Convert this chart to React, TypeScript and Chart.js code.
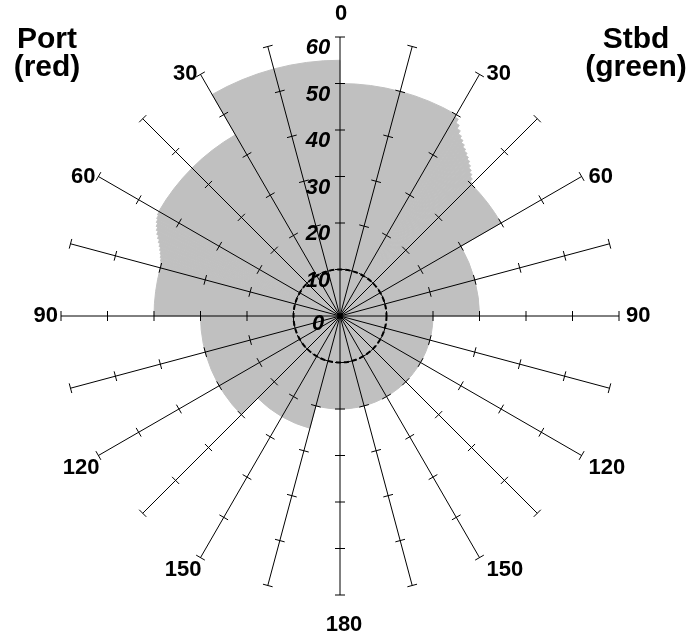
import React, { useEffect, useRef } from 'react';
import { Chart, registerables } from 'chart.js';

Chart.register(...registerables);

// Spokes every 15 degrees, clockwise from the bow (starboard first)
const spokeLabels = ['0', '15', '30', '45', '60', '75', '90', '105', '120', '135', '150', '165',
  '180', '195', '210', '225', '240', '255', '270', '285', '300', '315', '330', '345'];

// Radial scale ticks
const radialTicks = [0, 10, 20, 30, 40, 50, 60];

// Angle labels shown on both sides
const angleLabels = [0, 30, 60, 90, 120, 150, 180];

// Starboard sectors, from bow (0) to stern (180): width in degrees and radius
const stbdSpans = [30, 1, 1, 1, 1, 1, 1, 1, 1, 1, 1, 1, 1, 1, 1, 1, 15, 30, 90];
const stbdValues = [50, 49.4, 48.4, 47.5, 46.7, 46.1, 45.5, 44.9, 44.4, 43.9, 43.4, 42.8, 42.2, 41.6, 41.0, 40.3, 40, 30, 20];

// Port sectors, from bow (0) to stern (180): width in degrees and radius
const portSpans = [30, 30, 1, 1, 1, 1, 1, 1, 1, 1, 1, 1, 1, 1, 1, 1, 1, 15, 45, 30, 15];
const portValues = [55, 45, 44.9, 44.65, 44.35, 44.0, 43.6, 43.15, 42.65, 42.15, 41.7, 41.3, 40.95, 40.65, 40.4, 40.2, 40.05, 40, 30, 25, 20];

const FONT = '"Liberation Sans", Arial, Helvetica, sans-serif';

const spokePlugin = {
  id: 'spokeDecor',
  afterDraw(chart: any) {
    const scale = chart.scales.r;
    const ctx = chart.ctx;
    ctx.save();
    // tick marks across every spoke
    ctx.strokeStyle = '#000';
    ctx.lineWidth = 1;
    const n = spokeLabels.length;
    for (let i = 0; i < n; i++) {
      const a = scale.getIndexAngle(i) - Math.PI / 2;
      const px = -Math.sin(a);
      const py = Math.cos(a);
      for (const v of radialTicks) {
        if (v === 0) continue;
        const p = scale.getPointPositionForValue(i, v);
        ctx.beginPath();
        ctx.moveTo(p.x - px * 5, p.y - py * 5);
        ctx.lineTo(p.x + px * 5, p.y + py * 5);
        ctx.stroke();
      }
    }
    // radial tick labels along the bow spoke
    ctx.fillStyle = '#000';
    ctx.font = `italic bold 22px ${FONT}`;
    ctx.textAlign = 'center';
    ctx.textBaseline = 'top';
    for (const v of radialTicks) {
      const p = scale.getPointPositionForValue(0, v);
      ctx.fillText(String(v), p.x - 22, p.y - (v === 0 ? 3 : 0));
    }
    // angle labels
    ctx.font = `bold 22px ${FONT}`;
    for (const deg of angleLabels) {
      const sides = deg === 0 || deg === 180 ? [1] : [1, -1];
      for (const side of sides) {
        const compass = side > 0 ? deg : 360 - deg;
        const idx = spokeLabels.indexOf(String(compass % 360));
        const p = scale.getPointPositionForValue(idx, scale.max);
        if (deg === 0) {
          ctx.textAlign = 'center';
          ctx.textBaseline = 'bottom';
          ctx.fillText(String(deg), p.x + 1, p.y - 12);
        } else if (deg === 180) {
          ctx.textAlign = 'center';
          ctx.textBaseline = 'top';
          ctx.fillText(String(deg), p.x + 4, p.y + 19);
        } else {
          const lower = deg > 90;
          ctx.textBaseline = lower ? 'top' : 'middle';
          const y = lower ? p.y + 1 : p.y;
          if (side > 0) {
            ctx.textAlign = 'left';
            ctx.fillText(String(deg), p.x + 7, y);
          } else {
            ctx.textAlign = 'right';
            ctx.fillText(String(deg), p.x + (lower ? 1 : -3), y);
          }
        }
      }
    }
    ctx.restore();
  },
};

export default function App() {
  const ref = useRef<HTMLCanvasElement | null>(null);

  useEffect(() => {
    if (!ref.current) return;
    const spans = [...stbdSpans, ...portSpans.slice().reverse()];
    const values = [...stbdValues, ...portValues.slice().reverse()];
    const chart = new Chart(ref.current, {
      type: 'polarArea',
      data: {
        labels: spokeLabels,
        datasets: [
          {
            data: values,
            angle: (c: any) => spans[c.dataIndex],
            backgroundColor: '#c0c0c0',
            borderColor: '#c0c0c0',
            borderWidth: 1,
          } as any,
        ],
      },
      options: {
        responsive: false,
        animation: false,
        devicePixelRatio: 1,
        events: [],
        layout: { padding: { left: 61, right: 72, top: 37, bottom: 40 } },
        plugins: {
          legend: { display: false },
          tooltip: { enabled: false },
        },
        scales: {
          r: {
            min: 0,
            max: 60,
            startAngle: 0,
            z: 1,
            ticks: { display: false, stepSize: 10 },
            pointLabels: { display: false },
            angleLines: { display: true, color: '#000', lineWidth: 1 },
            grid: {
              circular: true,
              z: 1,
              color: (c: any) => (c.tick && c.tick.value === 10 ? '#000' : 'rgba(0,0,0,0)'),
              lineWidth: (c: any) => (c.tick && c.tick.value === 10 ? 2 : 0),
            },
            border: { dash: [5, 3] },
          } as any,
        },
      },
      plugins: [spokePlugin],
    });
    return () => chart.destroy();
  }, []);

  const labelStyle: React.CSSProperties = {
    position: 'absolute',
    top: 24,
    width: 130,
    textAlign: 'center',
    font: `bold 30px ${FONT}`,
    lineHeight: '28px',
    color: '#000',
  };

  return (
    <div style={{ position: 'absolute', left: 0, top: 0, width: 691, height: 635, background: '#fff' }}>
      <canvas ref={ref} width={691} height={635} style={{ width: 691, height: 635, display: 'block' }} />
      <div style={{ ...labelStyle, left: -18 }}>Port<br />(red)</div>
      <div style={{ ...labelStyle, left: 571 }}>Stbd<br />(green)</div>
    </div>
  );
}
